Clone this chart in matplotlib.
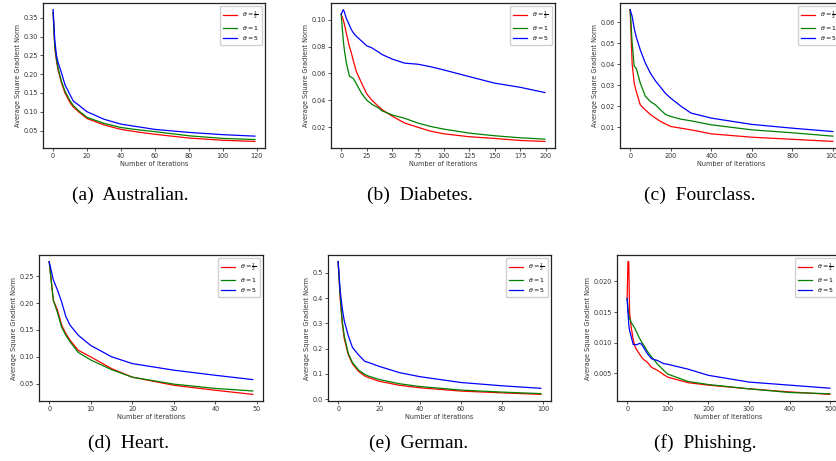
import matplotlib.pyplot as plt

australian_x = [0, 1, 2, 3, 5, 7, 10, 12, 15, 20, 30, 40, 50, 60, 80, 100, 119]
australian_half = [0.365, 0.27, 0.235, 0.21, 0.176, 0.15, 0.124, 0.112, 0.100, 0.082, 0.065, 0.053, 0.046, 0.040, 0.030, 0.024, 0.021]
australian_one = [0.365, 0.275, 0.24, 0.215, 0.18, 0.155, 0.129, 0.116, 0.103, 0.085, 0.069, 0.058, 0.052, 0.047, 0.036, 0.029, 0.026]
australian_five = [0.372, 0.29, 0.25, 0.23, 0.203, 0.172, 0.145, 0.128, 0.118, 0.100, 0.080, 0.067, 0.060, 0.053, 0.045, 0.039, 0.035]

diabetes_x = [0, 2, 3, 5, 8, 10, 12, 15, 20, 25, 30, 37, 40, 50, 62, 75, 87, 100, 125, 150, 175, 199]
diabetes_half = [0.104, 0.100, 0.097, 0.090, 0.080, 0.075, 0.069, 0.061, 0.0527, 0.0447, 0.040, 0.035, 0.033, 0.028, 0.023, 0.0198, 0.017, 0.015, 0.0128, 0.0115, 0.010, 0.0093]
diabetes_one = [0.104, 0.085, 0.078, 0.068, 0.058, 0.057, 0.056, 0.052, 0.045, 0.040, 0.037, 0.034, 0.032, 0.029, 0.0265, 0.023, 0.0205, 0.0185, 0.0155, 0.0135, 0.012, 0.011]
diabetes_five = [0.104, 0.1075, 0.106, 0.101, 0.096, 0.0925, 0.090, 0.0875, 0.084, 0.0805, 0.079, 0.0756, 0.074, 0.0706, 0.0676, 0.0668, 0.065, 0.0626, 0.0576, 0.0527, 0.0496, 0.0457]

fourclass_x = [0, 10, 20, 30, 50, 75, 100, 125, 150, 175, 200, 250, 300, 400, 600, 800, 999]
fourclass_half = [0.066, 0.040, 0.031, 0.027, 0.0206, 0.0182, 0.016, 0.0143, 0.0127, 0.0115, 0.0103, 0.0095, 0.0087, 0.0068, 0.0052, 0.0042, 0.0032]
fourclass_one = [0.066, 0.050, 0.039, 0.038, 0.031, 0.0247, 0.0222, 0.0206, 0.0182, 0.016, 0.0151, 0.0138, 0.0130, 0.0111, 0.0087, 0.0073, 0.0057]
fourclass_five = [0.066, 0.0627, 0.057, 0.053, 0.0468, 0.0405, 0.0357, 0.032, 0.029, 0.026, 0.0238, 0.020, 0.0167, 0.0143, 0.0113, 0.0095, 0.0079]

heart_x = [0, 1, 2, 3, 4, 5, 7, 10, 15, 20, 30, 40, 49]
heart_half = [0.277, 0.205, 0.187, 0.159, 0.143, 0.131, 0.112, 0.0997, 0.078, 0.062, 0.0469, 0.0376, 0.030]
heart_one = [0.277, 0.205, 0.182, 0.155, 0.140, 0.128, 0.108, 0.094, 0.076, 0.062, 0.049, 0.041, 0.0363]
heart_five = [0.277, 0.243, 0.224, 0.202, 0.175, 0.159, 0.140, 0.121, 0.100, 0.0873, 0.075, 0.0655, 0.0575]

german_x = [0, 1, 2, 3, 5, 7, 10, 13, 15, 20, 30, 40, 60, 80, 99]
german_half = [0.545, 0.40, 0.30, 0.24, 0.175, 0.14, 0.11, 0.092, 0.085, 0.071, 0.055, 0.045, 0.032, 0.025, 0.019]
german_one = [0.545, 0.41, 0.31, 0.25, 0.18, 0.145, 0.115, 0.098, 0.091, 0.078, 0.061, 0.050, 0.036, 0.028, 0.022]
german_five = [0.545, 0.43, 0.36, 0.31, 0.25, 0.205, 0.175, 0.15, 0.145, 0.13, 0.105, 0.089, 0.066, 0.053, 0.043]

phishing_x = [0, 2, 4, 6, 10, 15, 20, 25, 30, 35, 40, 50, 60, 75, 90, 100, 150, 200, 300, 400, 499]
phishing_half = [0.0172, 0.0232, 0.0232, 0.015, 0.0125, 0.0105, 0.0093, 0.0087, 0.0082, 0.0077, 0.0073, 0.0068, 0.006, 0.0055, 0.0048, 0.0044, 0.0035, 0.0031, 0.0025, 0.0020, 0.0016]
phishing_one = [0.0172, 0.0155, 0.0145, 0.014, 0.0133, 0.0128, 0.0122, 0.0115, 0.0108, 0.0102, 0.0097, 0.0086, 0.0077, 0.0065, 0.0055, 0.0049, 0.0037, 0.0032, 0.0025, 0.0019, 0.0017]
phishing_five = [0.0172, 0.015, 0.013, 0.012, 0.011, 0.0097, 0.0097, 0.0097, 0.0099, 0.0098, 0.0093, 0.0082, 0.0074, 0.0071, 0.0066, 0.0065, 0.0057, 0.0047, 0.0036, 0.0031, 0.0026]

captions = ['(a)  Australian.', '(b)  Diabetes.', '(c)  Fourclass.',
            '(d)  Heart.', '(e)  German.', '(f)  Phishing.']

W, H = 836, 461
fig = plt.figure(figsize=(W / 100, H / 100), dpi=100)


def add_panel(box, x, half, one, five):
    # box in pixels: left, top, right, bottom
    l, t, r, b = box
    ax = fig.add_axes([l / W, 1 - b / H, (r - l) / W, (b - t) / H])
    ax.plot(x, half, color='red', lw=0.9, label=r'$\theta=\frac{1}{2}$')
    ax.plot(x, one, color='green', lw=0.9, label=r'$\theta=1$')
    ax.plot(x, five, color='blue', lw=0.9, label=r'$\theta=5$')
    ax.tick_params(labelsize=4.7, length=2, width=0.6, pad=1.5, colors='#333333')
    for s in ax.spines.values():
        s.set_linewidth(0.9)
        s.set_color('#222222')
    ax.set_xlabel('Number of Iterations', fontsize=4.7, labelpad=1.5, color='#333333')
    ax.set_ylabel('Average Square Gradient Norm', fontsize=4.7, labelpad=2, color='#333333')
    ax.legend(loc='upper right', fontsize=4.5, handlelength=2.2, borderpad=0.5,
              labelspacing=0.4, framealpha=0.9)
    return ax


add_panel((43, 3, 265, 148), australian_x, australian_half, australian_one, australian_five)
add_panel((331, 3, 555, 148), diabetes_x, diabetes_half, diabetes_one, diabetes_five)
add_panel((620, 3, 843, 148), fourclass_x, fourclass_half, fourclass_one, fourclass_five)
add_panel((39, 255, 263, 401), heart_x, heart_half, heart_one, heart_five)
add_panel((328, 255, 551, 401), german_x, german_half, german_one, german_five)
add_panel((617, 255, 840, 401), phishing_x, phishing_half, phishing_one, phishing_five)

cap_pos = [(130, 195), (420, 195), (700, 195), (128, 443), (419, 443), (705, 443)]
for (cx, cy), txt in zip(cap_pos, captions):
    fig.text(cx / W, 1 - cy / H, txt, ha='center', va='center',
             fontsize=14, family='Liberation Serif')

fig.savefig('out.png', dpi=100)
